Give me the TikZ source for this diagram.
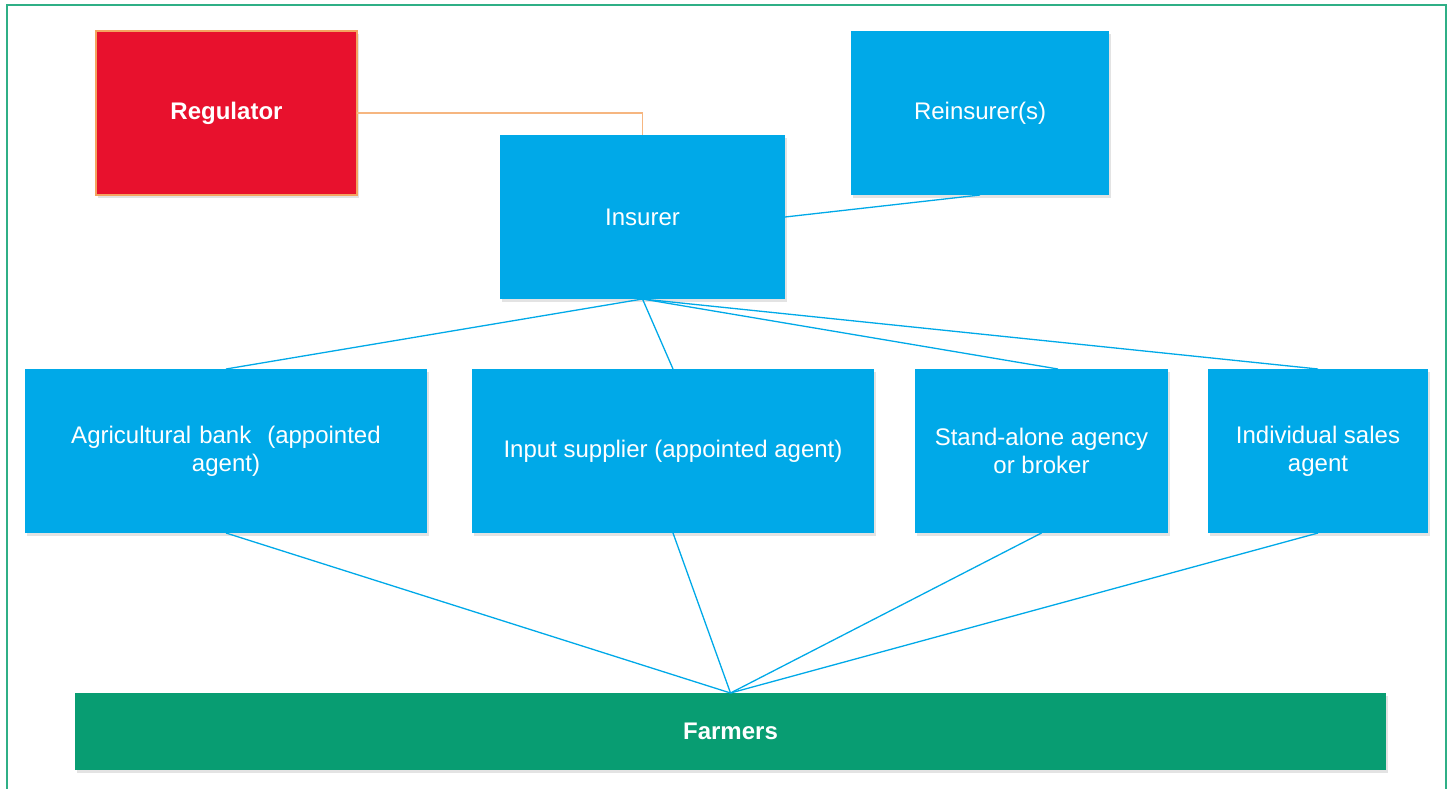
\documentclass[tikz,border=0pt]{standalone}
\usepackage{fontspec}
\setmainfont{Liberation Sans}
\usetikzlibrary{shadows}
\definecolor{regred}{HTML}{E8112D}
\definecolor{regedge}{HTML}{F4A460}
\definecolor{boxblue}{HTML}{00A9E8}
\definecolor{farmgreen}{HTML}{089D72}
\definecolor{framegreen}{HTML}{2FAF86}
\begin{document}
\begin{tikzpicture}[x=1pt,y=-1pt,
  every node/.style={inner sep=0pt, outer sep=0pt},
  boxshade/.style={drop shadow={shadow xshift=1.5pt, shadow yshift=-2.5pt, opacity=0.18, fill=black!60}},
  bluebox/.style={fill=boxblue, boxshade, text=white, font=\fontsize{24}{28}\selectfont, align=center},
  link/.style={draw=boxblue, line width=1.3pt},
  reglink/.style={draw=regedge!80, line width=1.1pt}
]
\useasboundingbox (0,0) rectangle (1450,788);
% outer frame
\draw[framegreen, line width=1.3pt] (7,800) -- (7,5) -- (1446,5) -- (1446,800);

% upper row
\node[fill=regred, draw=regedge, line width=1.2pt, boxshade, text=white,
      font=\bfseries\fontsize{24}{28}\selectfont,
      minimum width=261pt, minimum height=164pt] (reg) at (226.5,113) {Regulator};
\node[bluebox, minimum width=258pt, minimum height=164pt] (rein) at (980,113) {Reinsurer(s)};
\node[bluebox, minimum width=285pt, minimum height=164pt] (ins) at (642.5,217) {Insurer};

% distribution channels
\node[bluebox, minimum width=402pt, minimum height=164pt, text width=360pt] (bank) at (226,451) {Agricultural bank\ \ (appointed\\agent)};
\node[bluebox, minimum width=402pt, minimum height=164pt] (input) at (673,451) {Input supplier (appointed agent)};
\node[bluebox, minimum width=253pt, minimum height=164pt] (stand) at (1041.5,451) {Stand-alone agency\\or broker};
\node[bluebox, minimum width=220pt, minimum height=164pt] (indiv) at (1318,451) {Individual sales\\agent};

% farmers
\node[fill=farmgreen, boxshade, text=white, font=\bfseries\fontsize{24}{28}\selectfont,
      minimum width=1311pt, minimum height=77pt] (farm) at (730.5,731.5) {Farmers};

% coordinates for the connector ends
\coordinate (insTop) at (ins.north);
\coordinate (insBot) at (ins.south);
\coordinate (farmTop) at (farm.north);
\coordinate (standTop) at (1058,369);

% connectors
\draw[reglink] (reg.east) -- (insTop |- reg.east) -- (insTop);
\draw[link] (ins.east) -- (rein.south);
\draw[link] (insBot) -- (bank.north);
\draw[link] (insBot) -- (input.north);
\draw[link] (insBot) -- (standTop);
\draw[link] (insBot) -- (indiv.north);
\draw[link] (bank.south) -- (farmTop);
\draw[link] (input.south) -- (farmTop);
\draw[link] (stand.south) -- (farmTop);
\draw[link] (indiv.south) -- (farmTop);
\end{tikzpicture}
\end{document}
